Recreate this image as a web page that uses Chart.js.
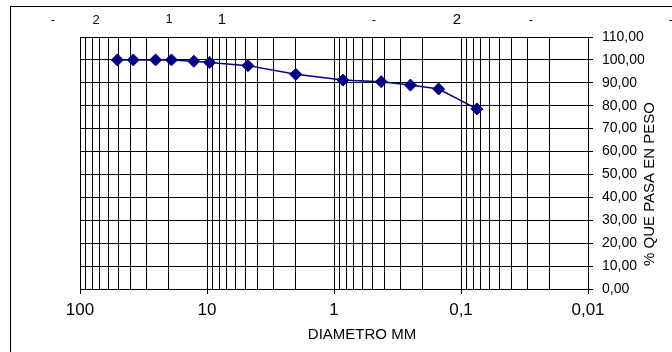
<!DOCTYPE html>
<html>
<head>
<meta charset="utf-8">
<script src="https://cdn.jsdelivr.net/npm/chart.js@4/dist/chart.umd.min.js"></script>
<style>
    html, body { margin: 0; padding: 0; background: #ffffff; }
    #wrap { width: 672px; height: 352px; position: relative; }
</style>
</head>
<body>
<div id="wrap"><canvas id="granChart"></canvas></div>
<script>
// ============================
// Data
// ============================

const diametros = [50.8, 38.1, 25.4, 19.05, 12.7, 9.525, 4.76, 2.0, 0.85, 0.425, 0.25, 0.15, 0.075];
const pasaPeso = [100, 100, 100, 100, 99.4, 98.9, 97.5, 93.7, 91.2, 90.5, 89.0, 87.3, 78.6];

const decadas = [100, 10, 1, 0.1, 0.01];
const decadaLabels = ["100", "10", "1", "0,1", "0,01"];

const yMin = 0;
const yMax = 110;
const yStep = 10;

const xTitle = "DIAMETRO MM";
const yTitle = "% QUE PASA EN PESO";

// clipped labels that show along the top edge
const topTexts = ["-", "2", "1", "1", "-", "2", "-", "-"];

const FONT = "'Liberation Sans', Arial, sans-serif";

function isDecade(v) {
    return decadas.some(d => Math.abs(d - v) < d * 1e-6);
}

// frame + clipped top texts + axis titles
const extrasPlugin = {
    id: "extras",
    beforeDraw(chart) {
        const ctx = chart.ctx;
        ctx.save();
        ctx.fillStyle = "#ffffff";
        ctx.fillRect(0, 0, chart.width, chart.height);
        ctx.strokeStyle = "#000000";
        ctx.lineWidth = 1;
        ctx.strokeRect(10.5, 6.5, 720, 400);
        ctx.restore();
    },
    afterDraw(chart) {
        const ctx = chart.ctx;
        ctx.save();
        ctx.fillStyle = "#000000";
        ctx.textAlign = "center";
        ctx.textBaseline = "middle";

        const xs = [53, 96, 169, 222, 374, 457, 531, 671];
        const sizes = [13, 13, 12, 15, 13, 15, 13, 13];
        topTexts.forEach((t, i) => {
            ctx.font = sizes[i] + "px " + FONT;
            ctx.fillText(t, xs[i], 20);
        });

        ctx.font = "15px " + FONT;
        ctx.fillText(xTitle, 362, 335);

        ctx.translate(650, 184);
        ctx.rotate(-Math.PI / 2);
        ctx.fillText(yTitle, 0, 0);
        ctx.restore();
    }
};

const ctx = document.getElementById("granChart").getContext("2d");

new Chart(ctx, {

    type: "line",

    data: {
        datasets: [{
            data: diametros.map((d, i) => ({ x: d, y: pasaPeso[i] })),
            borderColor: "#000080",
            backgroundColor: "#000080",
            borderWidth: 1.5,
            pointStyle: "rectRot",
            pointRadius: 6,
            pointBorderWidth: 1,
            tension: 0
        }]
    },

    options: {
        responsive: true,
        maintainAspectRatio: false,
        animation: false,
        layout: {
            padding: { left: 80, top: 37, right: 0, bottom: 0 }
        },
        plugins: {
            legend: { display: false },
            tooltip: { enabled: false }
        },
        scales: {
            x: {
                type: "logarithmic",
                reverse: true,
                min: 0.01,
                max: 100,
                afterBuildTicks(scale) {
                    const ticks = [];
                    for (let e = -2; e <= 1; e++) {
                        for (let s = 1; s <= 9; s++) {
                            ticks.push({ value: Number((s * Math.pow(10, e)).toPrecision(3)) });
                        }
                    }
                    ticks.push({ value: 100 });
                    scale.ticks = ticks;
                },
                afterFit(scale) {
                    scale.height = 63;
                },
                ticks: {
                    autoSkip: false,
                    maxRotation: 0,
                    minRotation: 0,
                    padding: 6,
                    color: "#000000",
                    font: { family: FONT, size: 17 },
                    callback(value) {
                        const i = decadas.findIndex(d => Math.abs(d - value) < d * 1e-6);
                        return i >= 0 ? decadaLabels[i] : "";
                    }
                },
                grid: {
                    color: "#000000",
                    lineWidth: 1,
                    tickLength: 5,
                    tickColor: c => (c.tick && isDecade(c.tick.value)) ? "#000000" : "rgba(0,0,0,0)"
                },
                border: { color: "#000000", width: 1 }
            },
            y: {
                position: "right",
                min: yMin,
                max: yMax,
                afterFit(scale) {
                    scale.width = 84;
                },
                ticks: {
                    stepSize: yStep,
                    padding: 9,
                    color: "#000000",
                    font: { family: FONT, size: 14 },
                    callback: v => v.toFixed(2).replace(".", ",")
                },
                grid: {
                    color: "#000000",
                    lineWidth: 1,
                    tickLength: 5
                },
                border: { color: "#000000", width: 1 }
            }
        }
    },

    plugins: [extrasPlugin]

});
</script>
</body>
</html>
